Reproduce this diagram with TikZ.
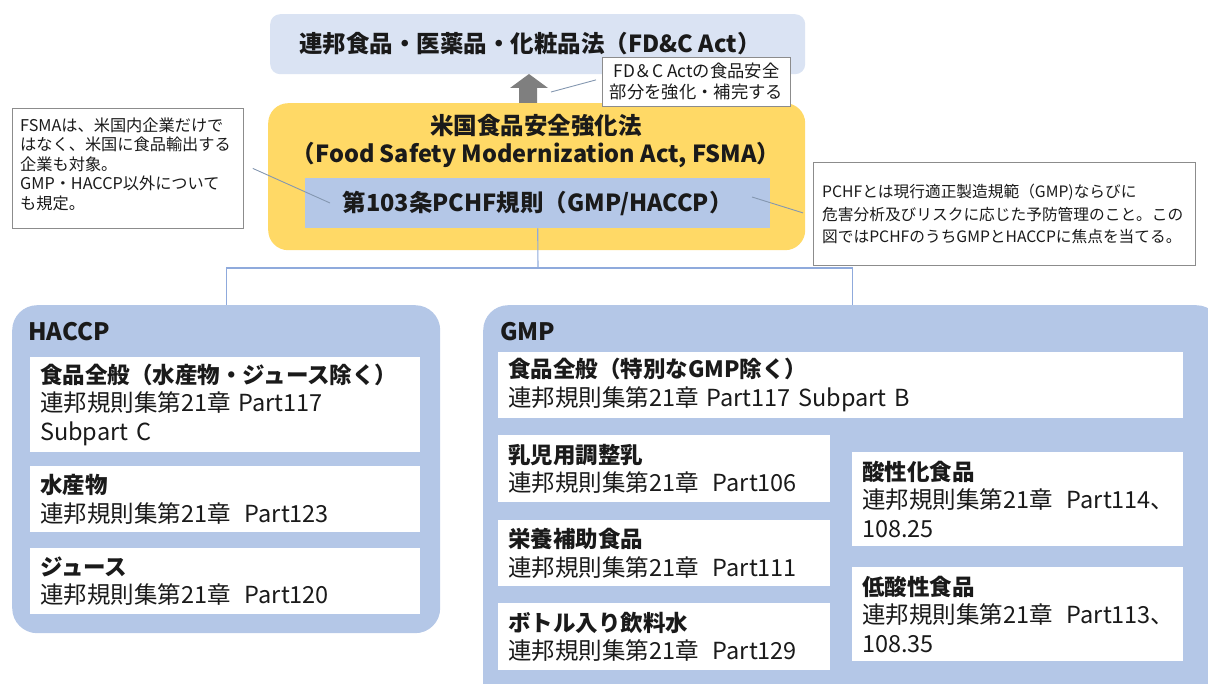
\documentclass[tikz,border=0pt]{standalone}
\usepackage{fontspec}
\setmainfont{Noto Sans CJK JP}
\usetikzlibrary{calc}
\definecolor{topfill}{HTML}{DAE3F3}
\definecolor{yel}{HTML}{FFD966}
\definecolor{blu}{HTML}{B4C7E7}
\definecolor{arrowgray}{HTML}{7F7F7F}
\definecolor{leadcol}{HTML}{8497B0}
\definecolor{treecol}{HTML}{8FAADC}
\definecolor{callborder}{HTML}{8C8C8C}
\definecolor{txt}{HTML}{1A1A1A}
\newcommand{\wgap}{\hspace{0.6em}}
\newcommand{\hd}[1]{{\fontsize{22.5}{28.5}\selectfont\bfseries #1}}
\begin{document}
\begin{tikzpicture}[x=1pt,y=-1pt,
  every node/.style={text=txt},
  topbox/.style={fill=topfill, rounded corners=10pt, anchor=north west, inner sep=0pt},
  yelbox/.style={fill=yel, rounded corners=20pt, anchor=north west, inner sep=0pt},
  pchfbox/.style={fill=blu, anchor=north west, inner sep=0pt},
  titlefont/.style={font=\fontsize{23.5}{28}\selectfont\bfseries},
  container/.style={fill=blu, rounded corners=25pt, anchor=north west, inner sep=0pt},
  grouplabel/.style={anchor=west, inner sep=0pt, font=\fontsize{24}{28}\selectfont\bfseries},
  wbox/.style={fill=white, anchor=north west, inner xsep=10pt, inner ysep=0pt, align=left, font=\fontsize{23.5}{28.5}\selectfont},
  callout/.style={fill=white, draw=callborder, line width=0.8pt, anchor=north west, inner sep=0pt},
  leader/.style={draw=leadcol, line width=0.9pt},
  tree/.style={draw=treecol, line width=1.1pt}
]
\useasboundingbox (0,0) rectangle (1208,684);
\clip (0,0) rectangle (1208,684);

% top law box
\node[topbox, minimum width=535pt, minimum height=60pt] (fdc) at (270,14) {};
\node[titlefont] (fdctext) at (530,44) {連邦食品・医薬品・化粧品法（FD\&C Act）};

% up arrow
\fill[arrowgray] (519,103) -- (519,88) -- (510,88) -- (529,74) -- (548,88) -- (537,88) -- (537,103) -- cycle;

% FSMA box
\node[yelbox, minimum width=537pt, minimum height=147pt] (fsma) at (268,103) {};
\node[align=center, titlefont] (fsmatext) at (536,141)
  {米国食品安全強化法\\（Food Safety Modernization Act, FSMA）};
\node[pchfbox, minimum width=465pt, minimum height=50pt] (pchf) at (305,178) {};
\node[titlefont] (pchftext) at (pchf.center) {第103条PCHF規則（GMP/HACCP）};

% callouts
\node[callout, minimum width=188pt, minimum height=49pt] (fdccall) at (602,57) {};
\node[align=center, font=\fontsize{17.3}{21}\selectfont] (fdccalltext) at (fdccall.center) {FD＆C Actの食品安全\\部分を強化・補完する};

\node[callout, minimum width=231pt, minimum height=120pt] (fsmacall) at (12,108) {};
\node[anchor=west, align=left, inner sep=0pt, font=\fontsize{16.2}{19.5}\selectfont] (fsmacalltext) at (20,164)
  {FSMAは、米国内企業だけで\\はなく、米国に食品輸出する\\企業も対象。\\GMP・HACCP以外について\\も規定。};

\node[callout, minimum width=382pt, minimum height=103pt] (pchfcall) at (813,162) {};
\node[anchor=west, align=left, inner sep=0pt, font=\fontsize{15.7}{22.5}\selectfont] (pchfcalltext) at (822,214)
  {PCHFとは現行適正製造規範（GMP)ならびに\\危害分析及びリスクに応じた予防管理のこと。この\\図ではPCHFのうちGMPとHACCPに焦点を当てる。};

\coordinate (l1) at (551,92);
\coordinate (l2) at (330,203);
\coordinate (l3) at (752,197);
\draw[leader] ($(fdccall.west)+(-6,-2)$) -- (l1);
\draw[leader] ($(fsmacall.east)+(9,0)$) -- (l2);
\draw[leader] ($(pchfcall.west)+(-10,-1)$) -- (l3);

% containers
\node[container, minimum width=428pt, minimum height=328pt] (haccp) at (12,305) {};
\node[container, minimum width=738pt, minimum height=420pt] (gmp) at (483,305) {};
\node[grouplabel] (haccplabel) at (28,332) {HACCP};
\node[grouplabel] (gmplabel) at (500,332) {GMP};

% tree connectors
\coordinate (bar) at (538,268);
\draw[tree] (pchf.south) -- (bar);
\draw[tree] (haccp.north) -- ++(0,-37) -| (gmp.north);

% HACCP items
\node[wbox, minimum height=95pt, text width=370pt] (h1) at (30,357)
  {\hd{食品全般（水産物・ジュース除く）}\\連邦規則集第21章 Part117\\Subpart C};
\node[wbox, minimum height=66pt, text width=370pt] (h2) at (30,466)
  {\hd{水産物}\\連邦規則集第21章\wgap Part123};
\node[wbox, minimum height=66pt, text width=370pt] (h3) at (30,548)
  {\hd{ジュース}\\連邦規則集第21章\wgap Part120};

% GMP items
\node[wbox, minimum height=66pt, text width=665pt] (g1) at (498,352)
  {\hd{食品全般（特別なGMP除く）}\\連邦規則集第21章 Part117 Subpart B};
\node[wbox, minimum height=67pt, text width=312pt] (g2) at (498,435)
  {\hd{乳児用調整乳}\\\mbox{連邦規則集第21章\wgap Part106}};
\node[wbox, minimum height=66pt, text width=312pt] (g3) at (498,520)
  {\hd{栄養補助食品}\\\mbox{連邦規則集第21章\wgap Part111}};
\node[wbox, minimum height=67pt, text width=312pt] (g4) at (498,603)
  {\hd{ボトル入り飲料水}\\\mbox{連邦規則集第21章\wgap Part129}};
\node[wbox, minimum height=94pt, text width=311pt] (g5) at (852,452)
  {\hd{酸性化食品}\\\mbox{連邦規則集第21章\wgap Part114、}\\108.25};
\node[wbox, minimum height=94pt, text width=311pt] (g6) at (852,567)
  {\hd{低酸性食品}\\\mbox{連邦規則集第21章\wgap Part113、}\\108.35};
\end{tikzpicture}
\end{document}
